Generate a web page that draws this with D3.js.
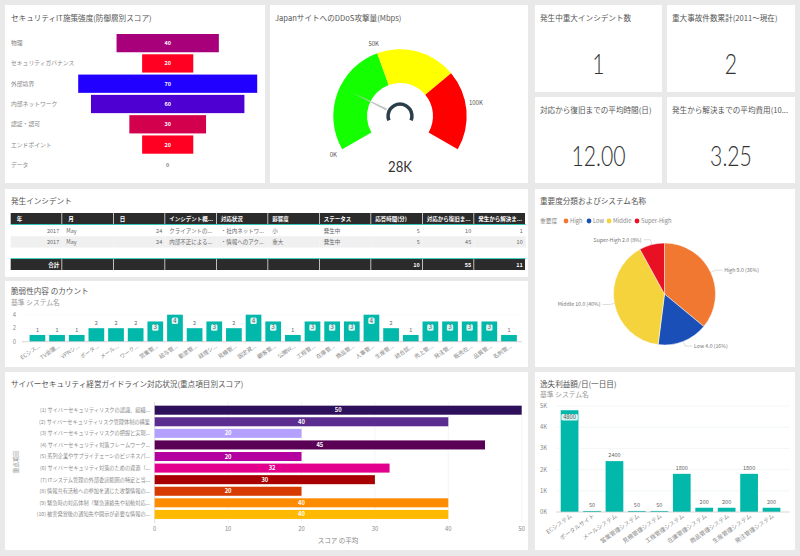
<!DOCTYPE html>
<html>
<head>
<meta charset="utf-8">
<script src="https://cdn.jsdelivr.net/npm/d3@7"></script>
<style>
  html, body { margin: 0; padding: 0; background: #e9e9e9; overflow: hidden; }
  svg { display: block; }
  text { font-family: "Noto Sans CJK JP", "Noto Sans", sans-serif; }
  .title { font-size: 7.6px; fill: #555; }
  .sub { font-size: 6.8px; fill: #999; }
  .tick-label { font-size: 5.8px; fill: #888; }
  .big { font-family: Lato, sans-serif; font-weight: 300; fill: #333; text-anchor: middle; }
</style>
</head>
<body>
<script>
// funnel
const funnelLabels = ['物理', 'セキュリティガバナンス', '外部境界', '内部ネットワーク', '認証・認可', 'エンドポイント', 'データ'];
const funnelValues = [40, 20, 70, 60, 30, 20, 0];

// gauge
const gaugeValue = 28;
const gaugeBreaks = [0, 50, 85, 120];
const gaugeColors = ['#14ff00', '#ffff00', '#ff0000'];
const gaugeTicks = [0, 50, 100];

// cards
const cardTitles = ['発生中重大インシデント数', '重大事故件数累計(2011～現在)', '対応から復旧までの平均時間(日)', '発生から解決までの平均費用(10...'];
const cardValues = ['1', '2', '12.00', '3.25'];

// table
const tableHeader = ['年', '月', '日', 'インシデント概...', '対応状況', '影響度', 'ステータス', '応答時間(分)', '対応から復旧ま...', '発生から解決ま...'];
const tableRows = [
  ['2017', 'May', '24', 'クライアントの...', '・社内ネットワ...', '小', '発生中', '5', '10', '1'],
  ['2017', 'May', '24', '内部不正による...', '・情報へのアク...', '重大', '発生中', '5', '45', '10']
];
const tableTotal = ['合計', '', '', '', '', '', '', '10', '55', '11'];
const numericCols = [0, 2, 7, 8, 9];

// vulnerability counts
const vulnLabels = ['ECシス...', 'TV会議...', 'VPNシ...', 'ポータ...', 'メール...', 'ワーク...', '営業管...', '給与管...', '勤怠管...', '経理シ...', '見積管...', '固定資...', '顧客管...', '公開W...', '工程管...', '在庫管...', '商品管...', '人事管...', '生産管...', '統合認...', '売上管...', '発注管...', '販売在...', '品質管...', '名刺管...'];
const vulnValues = [1, 1, 1, 2, 2, 2, 3, 4, 2, 3, 2, 4, 3, 1, 3, 3, 3, 4, 2, 1, 3, 3, 3, 3, 1];

// pie
const pieNames = ['High', 'Low', 'Middle', 'Super-High'];
const pieValues = [9, 4, 10, 2];
const pieColors = ['#f07830', '#1a4fb8', '#f5d33c', '#e81123'];

// guideline scores
const guideLabels = [
  '(1) サイバーセキュリティリスクの認識、組織...',
  '(2) サイバーセキュリティリスク管理体制の構築',
  '(3) サイバーセキュリティリスクの把握と実現...',
  '(4) サイバーセキュリティ対策フレームワーク...',
  '(5) 系列企業やサプライチェーンのビジネスパ...',
  '(6) サイバーセキュリティ対策のための資源（...',
  '(7) ITシステム管理の外部委託範囲の特定と当...',
  '(8) 情報共有活動への参加を通じた攻撃情報の...',
  '(9) 緊急時の対応体制（緊急連絡先や初動対応...',
  '(10) 被害発覚後の通知先や開示が必要な情報の...'
];
const guideValues = [50, 40, 20, 45, 20, 32, 30, 20, 40, 40];
const guideColors = ['#2e0f5c', '#5c2d91', '#b4a0ff', '#5a0055', '#b4009e', '#e3008c', '#a80000', '#d83b01', '#ff8c00', '#ffb900'];

// lost profit
const lossLabels = ['ECシステム', 'ポータルサイト', 'メールシステム', '営業管理システム', '見積管理システム', '工程管理システム', '在庫管理システム', '商品管理システム', '生産管理システム', '発注管理システム'];
const lossValues = [4800, 50, 2400, 50, 50, 1800, 200, 200, 1800, 200];

const teal = '#01b8aa';

const svg = d3.select('body').append('svg').attr('width', 800).attr('height', 556);

function panel(x, y, w, h) {
  svg.append('rect').attr('x', x).attr('y', y).attr('width', w).attr('height', h).attr('fill', '#fff');
}
function title(x, y, t, cls) {
  svg.append('text').attr('class', cls || 'title').attr('x', x).attr('y', y).text(t);
}
// value label sitting in a pale rounded box, used when the bar is tall enough
function boxedLabel(g, x, y, t) {
  const w = String(t).length * 3.4 + 3;
  g.append('rect').attr('x', x - w / 2).attr('y', y - 3.2).attr('width', w).attr('height', 6.4).attr('rx', 1.5)
    .attr('fill', '#fff').attr('opacity', 0.85);
  g.append('text').attr('x', x).attr('y', y + 2).attr('text-anchor', 'middle')
    .attr('font-size', 5.8).attr('fill', '#555').text(t);
}

panel(5, 5, 260, 178);
panel(270, 5, 258, 178);
panel(535, 5, 127, 87);
panel(667, 5, 128, 87);
panel(535, 97, 127, 86);
panel(667, 97, 128, 86);
panel(5, 189, 523, 88);
panel(5, 281, 523, 86);
panel(535, 189, 260, 178);
panel(5, 372, 523, 178);
panel(535, 372, 260, 178);

// ---- funnel
title(11, 21, 'セキュリティIT施策強度(防御層別スコア)');
const fy = d3.scaleBand().domain(funnelLabels).range([34, 174]).paddingInner(0.1);
const fw = d3.scaleLinear().domain([0, 70]).range([0, 179]);
const fColor = d3.scaleLinear().domain([20, 70]).range(['#ff0022', '#2200ff']);
const fg = svg.append('g');
fg.selectAll('rect').data(funnelValues).join('rect')
  .attr('x', d => 167.7 - fw(d) / 2)
  .attr('y', (d, i) => fy(funnelLabels[i]))
  .attr('width', d => fw(d))
  .attr('height', fy.bandwidth())
  .attr('fill', d => fColor(d));
fg.selectAll('text.v').data(funnelValues).join('text').attr('class', 'v')
  .attr('x', 167.7)
  .attr('y', (d, i) => fy(funnelLabels[i]) + fy.bandwidth() / 2 + 2)
  .attr('text-anchor', 'middle')
  .attr('font-size', 5.5)
  .attr('font-weight', 700)
  .attr('fill', d => d ? '#fff' : '#888')
  .text(d => d);
fg.selectAll('text.l').data(funnelLabels).join('text').attr('class', 'l tick-label')
  .attr('x', 11)
  .attr('y', d => fy(d) + fy.bandwidth() / 2 + 2)
  .text(d => d);

// ---- gauge
title(275, 21, 'JapanサイトへのDDoS攻撃量(Mbps)');
const gcx = 400, gcy = 116;
const ga = d3.scaleLinear().domain([0, 120]).range([-120, 120].map(d => d * Math.PI / 180));
const garc = d3.arc().innerRadius(33).outerRadius(66.7);
const gg = svg.append('g').attr('transform', `translate(${gcx},${gcy})`);
gg.selectAll('path.seg').data(gaugeColors).join('path').attr('class', 'seg')
  .attr('fill', d => d)
  .attr('d', (d, i) => garc({ startAngle: ga(gaugeBreaks[i]), endAngle: ga(gaugeBreaks[i + 1]) }));
gg.selectAll('text').data(gaugeTicks).join('text')
  .attr('x', d => Math.sin(ga(d)) * 77)
  .attr('y', d => -Math.cos(ga(d)) * 77 + 2)
  .attr('text-anchor', 'middle')
  .attr('font-size', 6)
  .attr('fill', '#555')
  .text(d => d + 'K');
// needle
const na = ga(gaugeValue);
const nx = Math.sin(na), ny = -Math.cos(na);
const needle = d3.line()([
  [nx * 53, ny * 53],
  [nx * 15 - ny * 1.1, ny * 15 + nx * 1.1],
  [nx * 15 + ny * 1.1, ny * 15 - nx * 1.1]
]) + 'Z';
gg.append('path').attr('d', needle).attr('fill', '#c4c4c4');
gg.append('path')
  .attr('d', d3.arc().innerRadius(10.2).outerRadius(13.7).startAngle(-1.95).endAngle(1.95)())
  .attr('fill', '#2c3e4a');
svg.append('text').attr('class', 'big')
  .attr('transform', `translate(${gcx},171.5) scale(0.85,1)`)
  .attr('font-size', 15.5)
  .style('font-weight', 400)
  .text(gaugeValue + 'K');

// ---- cards
const cardBoxes = [[535, 5, 127, 87], [667, 5, 128, 87], [535, 97, 127, 86], [667, 97, 128, 86]];
cardBoxes.forEach((b, i) => {
  title(b[0] + 5, b[1] + 16, cardTitles[i]);
  svg.append('text').attr('class', 'big')
    .attr('transform', `translate(${b[0] + b[2] / 2},${b[1] + 69}) scale(0.8,1)`)
    .attr('font-size', 26.5)
    .text(cardValues[i]);
});

// ---- table
title(11, 204, '発生インシデント');
const cols = d3.scaleBand().domain(d3.range(tableHeader.length)).range([10.7, 525.7]);
function tableRow(cells, y, h, bg, color, weight) {
  const g = svg.append('g');
  const isHeader = cells === tableHeader;
  g.selectAll('rect').data(cells).join('rect')
    .attr('x', (d, i) => cols(i))
    .attr('y', y)
    .attr('width', cols.bandwidth() - (bg === '#2b2b2b' ? 0.7 : 0))
    .attr('height', h)
    .attr('fill', bg);
  g.selectAll('text').data(cells).join('text')
    .attr('x', (d, i) => numericCols.includes(i) && !isHeader ? cols(i) + cols.bandwidth() - 3 : cols(i) + (isHeader && i < 3 ? 6 : 4))
    .attr('y', y + h / 2 + 2)
    .attr('text-anchor', (d, i) => numericCols.includes(i) && !isHeader ? 'end' : 'start')
    .attr('font-size', 5.5)
    .attr('font-weight', weight)
    .attr('fill', color)
    .text(d => d);
}
tableRow(tableHeader, 213, 11, '#2b2b2b', '#fff', 700);
tableRow(tableRows[0], 225, 11.3, '#fff', '#666', 400);
tableRow(tableRows[1], 236.3, 11.3, '#f0f0f0', '#666', 400);
tableRow(tableTotal, 259, 11, '#2b2b2b', '#fff', 700);
[224.5, 258.6].forEach(y => {
  svg.append('line').attr('x1', 10.7).attr('x2', 525.7).attr('y1', y).attr('y2', y)
    .attr('stroke', teal).attr('stroke-width', 0.8);
});

// ---- vulnerability bars
title(11, 294, '脆弱性内容 のカウント');
title(11, 304.5, '基準 システム名', 'sub');
const vx = d3.scaleBand().domain(d3.range(vulnValues.length)).range([27.6, 518.8]).paddingInner(0.2).paddingOuter(0.1);
const vy = d3.scaleLinear().domain([0, 4]).range([341.7, 314.7]);
const vg = svg.append('g');
vg.selectAll('line.grid').data([2, 4]).join('line').attr('class', 'grid')
  .attr('x1', 24).attr('x2', 522).attr('y1', d => vy(d)).attr('y2', d => vy(d))
  .attr('stroke', '#efefef').attr('stroke-width', 0.6).attr('stroke-dasharray', '1 1');
vg.selectAll('text.yt').data([0, 2, 4]).join('text').attr('class', 'yt tick-label')
  .attr('x', 16).attr('y', d => vy(d) + 2).attr('text-anchor', 'end').text(d => d);
vg.selectAll('rect.bar').data(vulnValues).join('rect').attr('class', 'bar')
  .attr('x', (d, i) => vx(i))
  .attr('y', d => vy(d))
  .attr('width', vx.bandwidth())
  .attr('height', d => vy(0) - vy(d))
  .attr('fill', teal);
vg.append('line').attr('x1', 22).attr('x2', 522).attr('y1', vy(0)).attr('y2', vy(0))
  .attr('stroke', '#ccc').attr('stroke-width', 0.8);
vulnValues.forEach((d, i) => {
  const cx = vx(i) + vx.bandwidth() / 2;
  if (d >= 3) boxedLabel(vg, cx, vy(d) + 6, d);
  else vg.append('text').attr('x', cx).attr('y', vy(d) - 3).attr('text-anchor', 'middle')
    .attr('font-size', 5.5).attr('fill', '#666').text(d);
});
vg.selectAll('text.xt').data(vulnLabels).join('text').attr('class', 'xt tick-label')
  .attr('text-anchor', 'end')
  .attr('transform', (d, i) => `translate(${vx(i) + vx.bandwidth() / 2 + 3},347) rotate(-35)`)
  .attr('font-size', 5.5)
  .style('font-size', '5.5px')
  .text(d => d);

// ---- pie
title(540, 204, '重要度分類およびシステム名称');
svg.append('text').attr('class', 'tick-label').attr('x', 540).attr('y', 223).text('重要度');
const legendX = [566, 589, 609, 637];
pieNames.forEach((n, i) => {
  svg.append('circle').attr('cx', legendX[i]).attr('cy', 221).attr('r', 2.4).attr('fill', pieColors[i]);
  svg.append('text').attr('class', 'tick-label').attr('x', legendX[i] + 4).attr('y', 223).text(n);
});
const pcx = 664.5, pcy = 294, pr = 51;
const pieData = d3.pie().sort(null)(pieValues);
const total = d3.sum(pieValues);
const pg = svg.append('g').attr('transform', `translate(${pcx},${pcy})`);
pg.selectAll('path').data(pieData).join('path')
  .attr('d', d3.arc().innerRadius(0).outerRadius(pr))
  .attr('fill', (d, i) => pieColors[i])
  .attr('stroke', '#fff').attr('stroke-width', 0.5);
pieData.forEach((d, i) => {
  const a = (d.startAngle + d.endAngle) / 2;
  const sx = Math.sin(a), sy = -Math.cos(a);
  const dir = sx >= 0 ? 1 : -1;
  const ex = sx * 56, ey = sy * 56;
  pg.append('path')
    .attr('d', d3.line()([[sx * pr, sy * pr], [ex, ey], [ex + dir * 7, ey]]))
    .attr('fill', 'none').attr('stroke', '#bbb').attr('stroke-width', 0.5);
  pg.append('text')
    .attr('x', ex + dir * 9)
    .attr('y', ey + 1.8)
    .attr('text-anchor', dir > 0 ? 'start' : 'end')
    .attr('font-size', 5.2)
    .attr('fill', '#777')
    .text(`${pieNames[i]} ${pieValues[i].toFixed(1)} (${Math.round(pieValues[i] / total * 100)}%)`);
});

// ---- guideline bars
title(11, 387, 'サイバーセキュリティ経営ガイドライン対応状況(重点項目別スコア)');
const gx = d3.scaleLinear().domain([0, 50]).range([154.7, 521.7]);
const gy = d3.scaleBand().domain(guideLabels).range([404.4, 520.2]).paddingInner(0.22).paddingOuter(0.11);
const bg = svg.append('g');
bg.selectAll('line').data(gx.ticks(5)).join('line')
  .attr('x1', d => gx(d)).attr('x2', d => gx(d)).attr('y1', 402).attr('y2', 523)
  .attr('stroke', d => d ? '#f0f0f0' : '#ccc').attr('stroke-width', 0.7);
bg.selectAll('rect').data(guideValues).join('rect')
  .attr('x', gx(0))
  .attr('y', (d, i) => gy(guideLabels[i]))
  .attr('width', d => gx(d) - gx(0))
  .attr('height', gy.bandwidth())
  .attr('fill', (d, i) => guideColors[i]);
bg.selectAll('text.v').data(guideValues).join('text').attr('class', 'v')
  .attr('x', d => (gx(d) + gx(0)) / 2)
  .attr('y', (d, i) => gy(guideLabels[i]) + gy.bandwidth() / 2 + 2)
  .attr('text-anchor', 'middle')
  .attr('font-size', 5.8)
  .attr('font-weight', 700)
  .attr('fill', '#fff')
  .text(d => d);
bg.selectAll('text.l').data(guideLabels).join('text').attr('class', 'l')
  .attr('x', 150)
  .attr('y', d => gy(d) + gy.bandwidth() / 2 + 1.9)
  .attr('text-anchor', 'end')
  .attr('font-size', 5.2)
  .attr('fill', '#888')
  .text(d => d);
bg.selectAll('text.t').data(gx.ticks(5)).join('text').attr('class', 't tick-label')
  .attr('x', d => gx(d)).attr('y', 531).attr('text-anchor', 'middle').text(d => d);
bg.append('text').attr('class', 'tick-label').attr('x', 338).attr('y', 542.5).attr('text-anchor', 'middle')
  .style('font-size', '6.5px').text('スコア の平均');
bg.append('text').attr('class', 'tick-label').attr('text-anchor', 'middle')
  .attr('transform', 'translate(18,462) rotate(-90)').text('重点項目');

// ---- lost profit bars
title(540, 386.5, '逸失利益額/日(一日目)');
title(540, 396.5, '基準 システム名', 'sub');
const lx = d3.scaleBand().domain(lossLabels).range([558.7, 782.4]).paddingInner(0.21).paddingOuter(0.09);
const ly = d3.scaleLinear().domain([0, 5000]).range([512, 406]);
const lg = svg.append('g');
lg.selectAll('line.grid').data(ly.ticks(5).slice(1)).join('line').attr('class', 'grid')
  .attr('x1', 556).attr('x2', 790).attr('y1', d => ly(d)).attr('y2', d => ly(d))
  .attr('stroke', '#eef3f3').attr('stroke-width', 0.7);
lg.selectAll('text.yt').data(ly.ticks(5)).join('text').attr('class', 'yt tick-label')
  .attr('x', 547).attr('y', d => ly(d) + 2).attr('text-anchor', 'end').text(d => d / 1000 + 'K');
lg.selectAll('rect.bar').data(lossValues).join('rect').attr('class', 'bar')
  .attr('x', (d, i) => lx(lossLabels[i]))
  .attr('y', d => ly(d))
  .attr('width', lx.bandwidth())
  .attr('height', d => ly(0) - ly(d))
  .attr('fill', teal);
lg.append('line').attr('x1', 556).attr('x2', 790).attr('y1', ly(0)).attr('y2', ly(0))
  .attr('stroke', '#ccc').attr('stroke-width', 0.8);
lossValues.forEach((d, i) => {
  const cx = lx(lossLabels[i]) + lx.bandwidth() / 2;
  if (d > 4000) boxedLabel(lg, cx, ly(d) + 7, d);
  else lg.append('text').attr('x', cx).attr('y', ly(d) - 4).attr('text-anchor', 'middle')
    .attr('font-size', 5.5).attr('fill', '#666').text(d);
});
lg.selectAll('text.xt').data(lossLabels).join('text').attr('class', 'xt tick-label')
  .attr('text-anchor', 'end')
  .attr('transform', d => `translate(${lx(d) + lx.bandwidth() / 2 + 3},517) rotate(-35)`)
  .text(d => d);
</script>
</body>
</html>
